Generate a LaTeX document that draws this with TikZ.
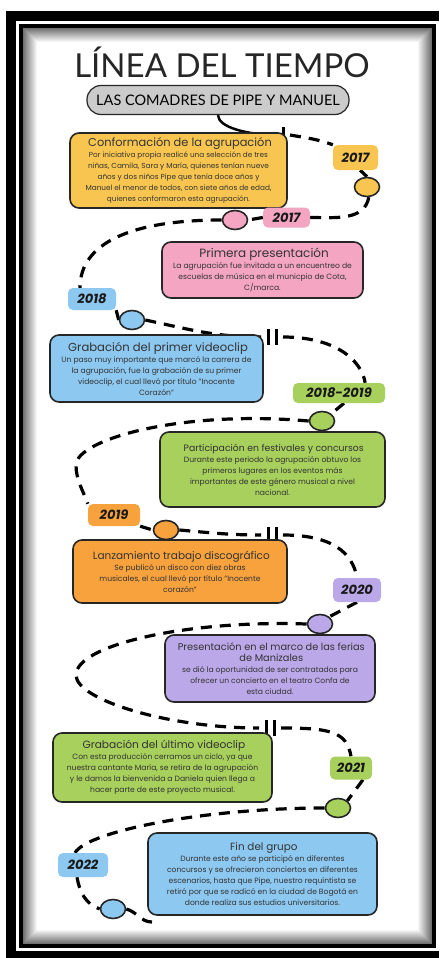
\documentclass[tikz,border=0pt]{standalone}
\usepackage{fontspec}
\setmainfont{Poppins}
\newfontfamily\letrero{Lato}
\usetikzlibrary{calc, shapes.geometric}
\definecolor{amarillo}{HTML}{F8C650}
\definecolor{rosa}{HTML}{F4A5C2}
\definecolor{celeste}{HTML}{8DC8F0}
\definecolor{verde}{HTML}{A7D05C}
\definecolor{naranja}{HTML}{F8A23E}
\definecolor{lila}{HTML}{BBA8E8}
\definecolor{gris}{HTML}{CBCBCB}
\newcommand\cuerpo[1][7.6]{\fontsize{#1}{11}\selectfont}
\newcommand\encabezado[1][11]{\fontsize{#1}{13}\selectfont}
\newcommand\numero{\fontsize{13}{14}\selectfont\bfseries\itshape}
\pgfdeclarelayer{fondo}
\pgfdeclarelayer{camino}
\pgfsetlayers{fondo,camino,main}

\begin{document}
\begin{tikzpicture}[x=1pt, y=1pt,
  caja/.style={draw=black!85, line width=1.6pt, rounded corners=9pt, align=center, inner sep=1pt, text=black!80, font=\cuerpo},
  anio/.style={rounded corners=5pt, inner xsep=4pt, minimum height=22pt, font=\numero, text=black!90},
  bola/.style={ellipse, draw=black!85, line width=1.6pt, minimum width=25pt, minimum height=19pt, inner sep=0pt},
  ruta/.style={line width=3.2pt, dash pattern=on 11pt off 8pt},
  raya/.style={line width=3pt}]
\useasboundingbox (0,0) rectangle (439,-958);

\begin{pgfonlayer}{fondo}
\fill[white] (0,0) rectangle (439,-958);
\fill[black] (6,-11) rectangle (439,-958);
\fill[white] (16,-21) rectangle (439,-951);
\fill[black] (19,-24) rectangle (436,-948);
\foreach \k [evaluate=\k as \g using int(56-4*\k)] in {0,...,13}
  \fill[black!\g] ({23+\k},{-28-\k}) rectangle ({432-\k},{-944+\k});
\fill[white] (37,-42) rectangle (418,-930);
\end{pgfonlayer}

\node[font=\letrero\fontsize{33}{36}\selectfont, text=black!85] (titulo) at (222,-62) {LÍNEA DEL TIEMPO};
\node[draw=black!85, line width=1.2pt, fill=gris, rounded corners=14pt, minimum width=262pt, minimum height=29pt, font=\letrero\fontsize{14.5}{16}\selectfont] (lema) at (218,-100) {LAS COMADRES DE PIPE Y MANUEL};

\node[caja, fill=amarillo, minimum width=217pt, minimum height=75pt, font={\cuerpo[7.3]}] (conformacion) at (178.5,-170.5) {{\encabezado[11.4] Conformación de la agrupación}\\
Por iniciativa propia realicé una selección de tres\\
niñas, Camila, Sara y María, quienes tenían nueve\\
años y dos niños Pipe que tenía doce años y\\
Manuel el menor de todos, con siete años de edad,\\
quienes conformaron esta agrupación.};
\node[caja, fill=rosa, minimum width=201pt, minimum height=56pt] (presentacion) at (262.5,-270) {{\encabezado[12] Primera presentación}\\
La agrupación fue invitada a un encuentreo de\\
escuelas de música en el municpio de Cota,\\
C/marca.};
\node[caja, fill=celeste, minimum width=213pt, minimum height=67pt] (videoclip) at (156.5,-368.5) {{\encabezado[11.6] Grabación del primer videoclip}\\
Un paso muy importante que marcó la carrera de\\
la agrupación, fue la grabación de su primer\\
videoclip, el cual llevó por título "Inocente\\
Corazón"};
\node[caja, fill=verde, minimum width=225pt, minimum height=75pt] (festivales) at (272.5,-469.5) {{\encabezado[9.3] Participación en festivales y concursos}\\
Durante este periodo la agrupación obtuvo los\\
primeros lugares en los eventos más\\
importantes de este género musical a nivel\\
nacional.};
\node[caja, fill=naranja, minimum width=214pt, minimum height=63pt] (disco) at (180,-571.5) {{\encabezado[10.5] Lanzamiento trabajo discográfico}\\
Se publicó un disco con diez obras\\
musicales, el cual llevó por título "Inocente\\
corazón"};
\node[caja, fill=lila, minimum width=210pt, minimum height=67pt] (ferias) at (270,-668.5) {{\encabezado[9.8] Presentación en el marco de las ferias}\\
{\encabezado[9.8] de Manizales}\\
se dió la oportunidad de ser contratados para\\
ofrecer un concierto en el teatro Confa de\\
esta ciudad.};
\node[caja, fill=verde, minimum width=219pt, minimum height=69pt] (ultimo) at (162.5,-767.5) {{\encabezado[10.6] Grabación del último videoclip}\\
Con esta producción cerramos un ciclo, ya que\\
nuestra cantante María, se retira de la agrupación\\
y le damos la bienvenida a Daniela quien llega a\\
hacer parte de este proyecto musical.};
\node[caja, fill=celeste, minimum width=229pt, minimum height=82pt] (fin) at (262.5,-874) {{\encabezado[10.4] Fin del grupo}\\
Durante este año se participó en diferentes\\
concursos y se ofrecieron conciertos en diferentes\\
escenarios, hasta que Pipe, nuestro requintista se\\
retiró por que se radicó en la ciudad de Bogotá en\\
donde realiza sus estudios universitarios.};

\node[anio, fill=amarillo, minimum width=45pt, minimum height=25pt] (a2017) at (355.5,-157.5) {2017};
\node[anio, fill=rosa, minimum width=47pt, minimum height=20pt] (b2017) at (286.5,-217.5) {2017};
\node[anio, fill=celeste, minimum width=48pt] (a2018) at (92,-299) {2018};
\node[anio, fill=verde, minimum width=92pt, minimum height=20pt] (a1819) at (339,-393) {2018-2019};
\node[anio, fill=naranja, minimum width=52pt] (a2019) at (114,-515) {2019};
\node[anio, fill=lila, minimum width=48pt, minimum height=24pt] (a2020) at (357,-590) {2020};
\node[anio, fill=verde, minimum width=42pt, minimum height=23pt] (a2021) at (351,-768) {2021};
\node[anio, fill=celeste, minimum width=50pt, minimum height=24pt] (a2022) at (83,-865) {2022};

\node[bola, fill=amarillo] (c1) at (367,-187) {};
\node[bola, fill=rosa] (c2) at (235,-220) {};
\node[bola, fill=celeste] (c3) at (132,-320) {};
\node[bola, fill=verde] (c4) at (322,-421) {};
\node[bola, fill=naranja] (c5) at (166,-530) {};
\node[bola, fill=lila] (c6) at (320,-624) {};
\node[bola, fill=verde] (c7) at (338,-808) {};
\node[bola, fill=celeste] (c8) at (113,-909) {};

\coordinate (t1) at (283,-135);
\coordinate (t2) at (272,-337);
\coordinate (t3) at (272,-535);
\coordinate (t4) at (270,-728);
\coordinate (w1) at (76,-465);
\coordinate (w2) at (76,-675);
\coordinate (cierre) at (152,-922);

\begin{pgfonlayer}{camino}
\draw[raya, line width=2.5pt] (lema.south) to[out=-90, in=180, out distance=12pt, in distance=30pt] ($(t1)+(-6,0)$);
\draw[raya] ($(t1)+(0,8)$) -- ($(t1)+(0,-8)$);
\foreach \t in {t2,t3,t4} {
  \draw[raya] ($(\t)+(-4,8)$) -- ($(\t)+(-4,-8)$);
  \draw[raya] ($(\t)+(4,8)$) -- ($(\t)+(4,-8)$);
}
\draw[ruta] ($(t1)+(7,0)$) to[out=-10, in=160] (a2017.north west);
\draw[ruta] (a2017.-70) -- (c1.north);
\draw[ruta] (c1.-80) to[out=-100, in=0] (b2017.east);
\draw[ruta] (b2017.west) -- (c2.east);
\draw[ruta] (c2.west) to[out=180, in=90, out distance=90pt, in distance=45pt] ([xshift=-12pt]a2018.north);
\draw[ruta] (a2018.south east) -- (c3.west);
\draw[ruta] (c3.east) to[out=-12, in=180] ($(t2)+(-11,0)$);
\draw[ruta] ($(t2)+(11,0)$) to[out=0, in=100, out distance=50pt, in distance=25pt] ([xshift=-20pt]a1819.north east);
\draw[ruta] ([xshift=5pt]a1819.south) -- (c4.north east);
\draw[ruta] (c4.west) to[out=175, in=90, out distance=130pt, in distance=25pt] (w1) to[out=-90, in=110, out distance=15pt, in distance=15pt] (a2019.north west);
\draw[ruta] (a2019.south east) -- (c5.west);
\draw[ruta] (c5.east) to[out=-5, in=180] ($(t3)+(-11,0)$);
\draw[ruta] ($(t3)+(11,0)$) to[out=0, in=100, out distance=50pt, in distance=25pt] (a2020.north);
\draw[ruta] (a2020.south) -- (c6.north east);
\draw[ruta] (c6.west) to[out=178, in=90, out distance=120pt, in distance=30pt] (w2) to[out=-90, in=180, out distance=25pt, in distance=90pt] ($(t4)+(-11,0)$);
\draw[ruta] ($(t4)+(11,0)$) to[out=0, in=100, out distance=50pt, in distance=25pt] (a2021.north);
\draw[ruta] ([xshift=12pt]a2021.south) -- (c7.north east);
\draw[ruta] (c7.west) to[out=180, in=60, out distance=120pt, in distance=25pt] ([xshift=-8pt]a2022.north);
\draw[ruta] ([xshift=-6pt]a2022.south) to[out=-80, in=160] (c8.west);
\draw[ruta] (c8.east) to[out=-15, in=180] (cierre);
\end{pgfonlayer}
\end{tikzpicture}
\end{document}
